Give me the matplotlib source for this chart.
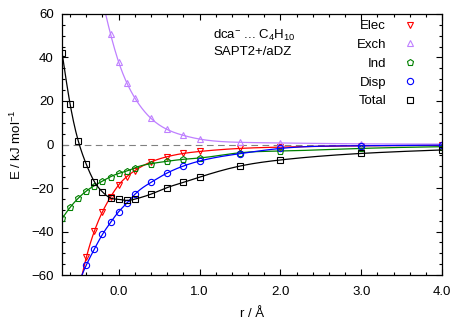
import numpy as np
import matplotlib
matplotlib.use("Agg")
import matplotlib.pyplot as plt

plt.rcParams['font.family'] = ['Liberation Sans', 'DejaVu Sans']
plt.rcParams['mathtext.default'] = 'regular'
plt.rcParams['font.size'] = 9.5

# distances (Angstrom)
r_all = [-0.7, -0.6, -0.5, -0.4, -0.3, -0.2, -0.1, 0.0, 0.1, 0.2,
         0.4, 0.6, 0.8, 1.0, 1.5, 2.0, 3.0, 4.0]
r_short = r_all[2:]
r_exch = r_all[5:]

# SAPT components (kJ/mol)
total = [42.2, 18.5, 1.7, -9.1, -17.1, -21.8, -24.6, -25.2, -25.7, -25.1,
         -22.8, -19.8, -17.4, -15.0, -9.9, -7.1, -4.1, -2.5]
ind = [-34.0, -28.9, -24.7, -21.4, -18.9, -16.8, -14.8, -13.3, -12.2, -10.7,
       -8.8, -7.7, -6.8, -6.2, -3.8, -3.0, -1.8, -1.0]
elec = [-68.0, -51.9, -39.8, -30.9, -24.1, -18.6, -14.8, -12.0,
        -8.0, -5.6, -4.1, -3.2, -1.8, -1.2, -0.6, -0.4]
disp = [-64.0, -55.4, -48.0, -41.3, -35.8, -30.9, -27.0, -22.9,
        -17.4, -13.1, -9.9, -7.6, -4.2, -1.8, -0.6, -0.3]
exch = [66.0, 50.7, 37.9, 28.4, 21.4, 12.0, 6.9, 4.2, 2.5, 1.0, 0.7, 0.3, 0.2]


def spline(x, y, n=500):
    # natural cubic spline, like gnuplot's smooth csplines
    x = np.asarray(x, float)
    y = np.asarray(y, float)
    h = np.diff(x)
    m = len(x)
    A = np.zeros((m, m))
    b = np.zeros(m)
    A[0, 0] = A[-1, -1] = 1
    for i in range(1, m - 1):
        A[i, i - 1] = h[i - 1]
        A[i, i] = 2 * (h[i - 1] + h[i])
        A[i, i + 1] = h[i]
        b[i] = 3 * ((y[i + 1] - y[i]) / h[i] - (y[i] - y[i - 1]) / h[i - 1])
    c = np.linalg.solve(A, b)
    bb = (y[1:] - y[:-1]) / h - h * (2 * c[:-1] + c[1:]) / 3
    d = (c[1:] - c[:-1]) / (3 * h)
    xs = np.linspace(x[0], x[-1], n)
    k = np.clip(np.searchsorted(x, xs) - 1, 0, m - 2)
    dx = xs - x[k]
    return xs, y[k] + bb[k] * dx + c[k] * dx ** 2 + d[k] * dx ** 3


fig = plt.figure(figsize=(4.63, 3.24), dpi=100)
ax = fig.add_axes([0.134, 0.151, 0.821, 0.806])

ax.axhline(0, color='#808080', lw=0.8, ls=(0, (6, 4)))

series = [
    ('Elec', r_short, elec, '#ff0000', 'v', 4.5),
    ('Exch', r_exch, exch, '#bf80ff', '^', 4.5),
    ('Ind', r_all, ind, '#008000', 'p', 4.5),
    ('Disp', r_short, disp, '#0000ff', 'o', 4.5),
    ('Total', r_all, total, '#000000', 's', 5),
]

handles = []
for name, xv, yv, col, mk, ms in series:
    xs, ys = spline(xv, yv)
    ax.plot(xs, ys, color=col, lw=0.9)
    h, = ax.plot(xv, yv, ls='none', marker=mk, ms=ms, mfc='none',
                 mec=col, mew=0.8, label=name)
    handles.append(h)

ax.set_xlim(-0.7, 4.0)
ax.set_ylim(-60, 60)
ax.set_xticks([0.0, 1.0, 2.0, 3.0, 4.0])
ax.set_xticklabels(['0.0', '1.0', '2.0', '3.0', '4.0'])
ax.set_xticks(np.arange(-0.6, 4.0, 0.2), minor=True)
ax.set_yticks([-60, -40, -20, 0, 20, 40, 60])
ax.set_yticks(np.arange(-60, 61, 5), minor=True)
ax.tick_params(which='both', direction='in', top=True, right=True, width=0.8)
ax.tick_params(which='major', length=4)
ax.tick_params(which='minor', length=2)
ax.tick_params(axis='x', pad=8)
ax.tick_params(axis='y', pad=6)
for s in ax.spines.values():
    s.set_linewidth(0.9)

ax.set_xlabel('r / Å', labelpad=7)
ax.set_ylabel('E / kJ mol$^{-1}$', labelpad=5)

ax.text(0.398, 0.945, 'dca$^{-}$ ... C$_4$H$_{10}$', transform=ax.transAxes,
        va='top', ha='left')
ax.text(0.398, 0.878, 'SAPT2+/aDZ', transform=ax.transAxes,
        va='top', ha='left')

ax.legend(handles=handles, loc='upper right', bbox_to_anchor=(0.955, 1.01),
          frameon=False, markerfirst=False, handlelength=1.0,
          handletextpad=1.3, labelspacing=0.5, borderaxespad=0.25)

fig.savefig('out.png', dpi=100)
